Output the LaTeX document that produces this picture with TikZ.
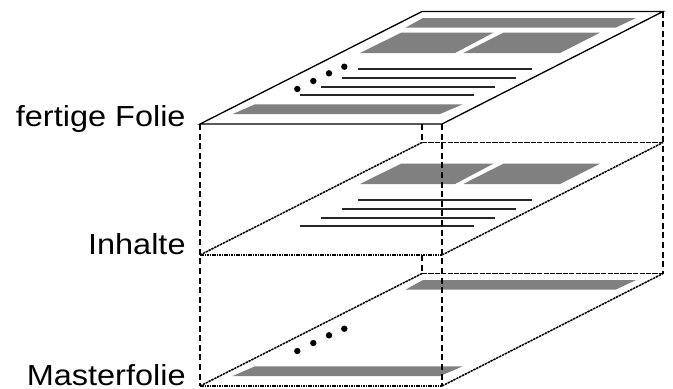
\documentclass[tikz,border=0pt]{standalone}
\usepackage{fontspec}
\newfontfamily\layerfont{Liberation Sans}[FakeStretch=1.12]
\definecolor{bargray}{RGB}{128,128,128}

\begin{document}
\begin{tikzpicture}[x=0.5pt, y=-0.5pt,
    sheet/.style={draw, fill=white, line width=0.65pt},
    bar/.style={fill=bargray},
    txtline/.style={line width=0.55pt, black!85},
    pole/.style={line width=1.3pt, dash pattern=on 3pt off 1.8pt},
    rearedge/.style={line width=0.75pt, dash pattern=on 2.6pt off 0.6pt},
    sideedge/.style={line width=0.75pt, dash pattern=on 1.2pt off 0.4pt},
    frontedge/.style={line width=0.75pt, dash pattern=on 0.8pt off 0.4pt},
    layername/.style={font=\layerfont\fontsize{14.5}{17}\selectfont, anchor=base east, inner sep=0pt}
]
\useasboundingbox (0,0) rectangle (673,388);

\begin{scope}[shift={(0,262)}]
\fill[white] (200,124) -- (442,124) -- (663,11.5) -- (422,11.5) -- cycle;
\draw[rearedge] (422,11.5) -- (663,11.5);
\draw[sideedge] (200,124) -- (422,11.5) (442,124) -- (663,11.5);
\draw[frontedge] (200,124) -- (442,124);
\fill[bar] (405.7,27.5) -- (616,27.5) -- (636,18) -- (423,18) -- cycle;
\fill[bar] (232.7,114) -- (440,114) -- (462.7,104.3) -- (255,104.3) -- cycle;
\fill (344.3,66.7) circle[radius=1.6pt];
\fill (329,73.3) circle[radius=1.6pt];
\fill (313.3,81) circle[radius=1.6pt];
\fill (297.3,89) circle[radius=1.6pt];
\end{scope}

\begin{scope}[shift={(0,131)}]
\fill[white] (200,124) -- (442,124) -- (663,11.5) -- (422,11.5) -- cycle;
\draw[rearedge] (422,11.5) -- (663,11.5);
\draw[sideedge] (200,124) -- (422,11.5) (442,124) -- (663,11.5);
\draw[frontedge] (200,124) -- (442,124);
\fill[bar] (360,53) -- (455,53) -- (493.3,32.7) -- (401,32.7) -- cycle;
\fill[bar] (463.3,53) -- (560,53) -- (600,32.7) -- (503.3,32.7) -- cycle;
\draw[txtline] (358.3,69) -- (531.7,69);
\draw[txtline] (341.7,78) -- (516,78);
\draw[txtline] (321,87) -- (495,87);
\draw[txtline] (300,95) -- (474,95);
\end{scope}

\draw[sheet] (200,124) -- (442,124) -- (663,11.5) -- (422,11.5) -- cycle;
\fill[bar] (405.7,27.5) -- (616,27.5) -- (636,18) -- (423,18) -- cycle;
\fill[bar] (360,53) -- (455,53) -- (493.3,32.7) -- (401,32.7) -- cycle;
\fill[bar] (463.3,53) -- (560,53) -- (600,32.7) -- (503.3,32.7) -- cycle;
\draw[txtline] (358.3,69) -- (531.7,69);
\draw[txtline] (341.7,78) -- (516,78);
\draw[txtline] (321,87) -- (495,87);
\draw[txtline] (300,95) -- (474,95);
\fill (344.3,66.7) circle[radius=1.6pt];
\fill (329,73.3) circle[radius=1.6pt];
\fill (313.3,81) circle[radius=1.6pt];
\fill (297.3,89) circle[radius=1.6pt];
\fill[bar] (232.7,114) -- (440,114) -- (462.7,104.3) -- (255,104.3) -- cycle;

\draw[pole] (200,124) -- (200,386);
\draw[pole] (442,124) -- (442,386);
\draw[pole] (663,11.5) -- (663,273.5);
\draw[pole] (422,124) -- (422,142.5);
\draw[pole] (422,255) -- (422,273.5);

\node[layername] (lfolie) at (186,126.5) {fertige Folie};
\node[layername] (linhalt) at (186,254.3) {Inhalte};
\node[layername] (lmaster) at (186,385) {Masterfolie};

\end{tikzpicture}
\end{document}
